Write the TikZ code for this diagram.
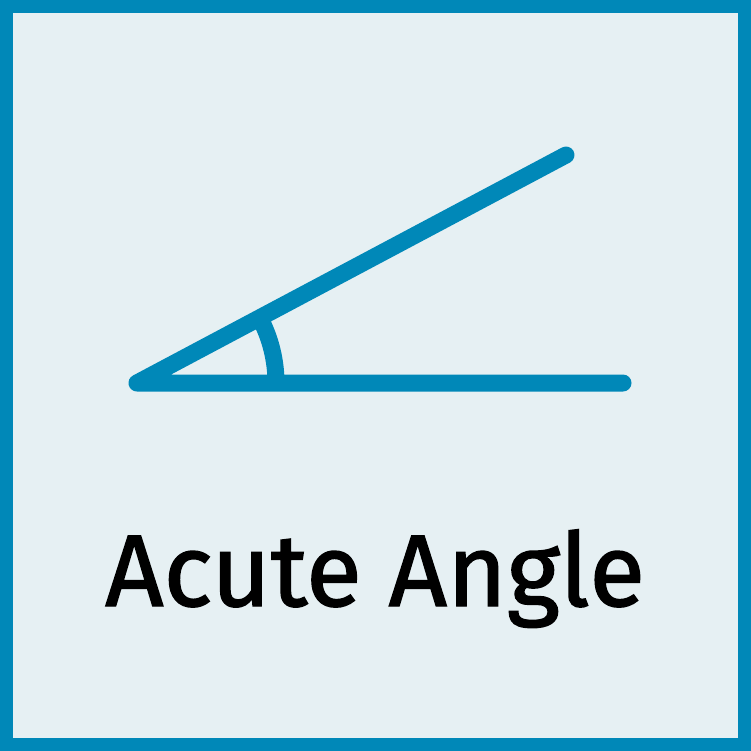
\documentclass[tikz,border=0pt]{standalone}
\usepackage{fontspec}
\setmainfont{Fira Sans}
\newfontfamily\medfont{Fira Sans}[FakeBold=1.4]
\definecolor{bluec}{HTML}{0088B8}
\definecolor{bgc}{HTML}{E6F0F3}
\tikzset{stroke/.style={draw=bluec,line width=17pt,line cap=round,line join=round}}
\begin{document}
\begin{tikzpicture}[x=1pt,y=-1pt]
\useasboundingbox (0,0) rectangle (751,751);
\fill[bluec] (0,0) rectangle (751,751);
\fill[bgc] (13,13) rectangle (738,738);
\coordinate (v) at (137,383);
\coordinate (h) at (623,383);
\coordinate (u) at (566,155);
\draw[stroke] (h) -- (v) -- (u);
\draw[draw=bluec,line width=17pt] ([shift={(0:139)}]v) arc[start angle=0,end angle=-28,radius=139];
\node[anchor=base,inner sep=0pt,font=\fontsize{102}{110}\medfont] (t) at (375,606) {Acute Angle};
\end{tikzpicture}
\end{document}
